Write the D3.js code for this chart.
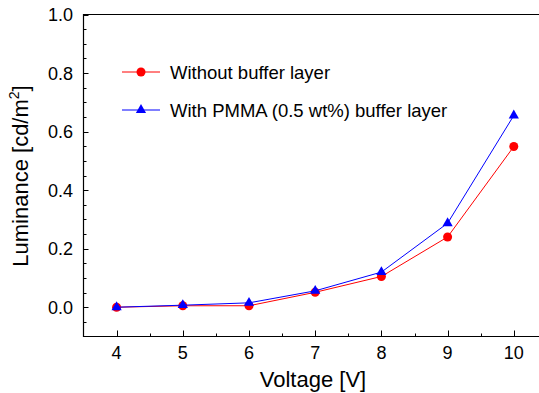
<!DOCTYPE html>
<html>
<head>
<meta charset="utf-8">
<script src="https://cdn.jsdelivr.net/npm/d3@7"></script>
<style>
  body { margin: 0; background: #fff; }
  text { font-family: "Liberation Sans", Arial, sans-serif; fill: #000; }
</style>
</head>
<body>
<div id="plot_area"></div>
<script>
// data
var voltage = [4, 5, 6, 7, 8, 9, 10];
var noBuffer = [0.0, 0.005, 0.005, 0.051, 0.105, 0.24, 0.549];
var withPmma = [0.0, 0.007, 0.015, 0.056, 0.12, 0.287, 0.655];
var seriesNames = ["Without buffer layer", "With PMMA (0.5 wt%) buffer layer"];
var yTicks = [0.0, 0.2, 0.4, 0.6, 0.8, 1.0];
var xTicks = [4, 5, 6, 7, 8, 9, 10];

var width = 539, height = 393;
var margin = {top: 14.5, left: 83.5, bottom: 56.5};

var svg = d3.select("#plot_area").append("svg")
  .attr("width", width)
  .attr("height", height);

var x = d3.scaleLinear().domain([3.5, 10.5]).range([margin.left, margin.left + 7 * 66.2]);
var y = d3.scaleLinear().domain([-0.1, 1.0]).range([height - margin.bottom, margin.top]);

// frame: left, bottom and top lines
svg.append("path")
  .attr("d", "M" + x.range()[1] + "," + y(1.0) + "H" + x(3.5) + "V" + y(-0.1) + "H" + x.range()[1])
  .attr("fill", "none")
  .attr("stroke", "#000")
  .attr("stroke-width", 1.2);

// y ticks (inside)
var yMinor = d3.range(-0.05, 1.0, 0.05).filter(function(v) { return Math.abs(Math.round(v * 5) - v * 5) > 1e-6; });
svg.selectAll(".ymin").data(yMinor).enter().append("line")
  .attr("x1", x(3.5)).attr("x2", x(3.5) + 3)
  .attr("y1", function(d) { return Math.round(y(d)) + 0.5; })
  .attr("y2", function(d) { return Math.round(y(d)) + 0.5; })
  .attr("stroke", "#000");
svg.selectAll(".ymaj").data(yTicks).enter().append("line")
  .attr("x1", x(3.5)).attr("x2", x(3.5) + 5)
  .attr("y1", function(d) { return Math.round(y(d)) + 0.5; })
  .attr("y2", function(d) { return Math.round(y(d)) + 0.5; })
  .attr("stroke", "#000");
svg.selectAll(".ylab").data(yTicks).enter().append("text")
  .attr("x", 73)
  .attr("y", function(d) { return y(d) + 6.5; })
  .attr("text-anchor", "end")
  .style("font-size", "18px")
  .text(function(d) { return d3.format(".1f")(d); });

// x ticks (inside)
var xMinor = [4.5, 5.5, 6.5, 7.5, 8.5, 9.5];
svg.selectAll(".xmin").data(xMinor).enter().append("line")
  .attr("x1", function(d) { return Math.round(x(d)) + 0.5; })
  .attr("x2", function(d) { return Math.round(x(d)) + 0.5; })
  .attr("y1", y(-0.1)).attr("y2", y(-0.1) - 3)
  .attr("stroke", "#000");
svg.selectAll(".xmaj").data(xTicks).enter().append("line")
  .attr("x1", function(d) { return Math.round(x(d)) + 0.5; })
  .attr("x2", function(d) { return Math.round(x(d)) + 0.5; })
  .attr("y1", y(-0.1)).attr("y2", y(-0.1) - 6)
  .attr("stroke", "#000");
svg.selectAll(".xlab").data(xTicks).enter().append("text")
  .attr("x", function(d) { return x(d); })
  .attr("y", 359)
  .attr("text-anchor", "middle")
  .style("font-size", "18px")
  .text(function(d) { return d; });

// axis titles
svg.append("text")
  .attr("x", 313).attr("y", 387)
  .attr("text-anchor", "middle")
  .style("font-size", "22px")
  .text("Voltage [V]");

var yt = svg.append("text")
  .attr("transform", "translate(28,176) rotate(-90)")
  .attr("text-anchor", "middle")
  .style("font-size", "22px");
yt.append("tspan").text("Luminance [cd/m");
yt.append("tspan").attr("dy", -9).style("font-size", "14px").text("2");
yt.append("tspan").attr("dy", 9).text("]");

// series
var line = d3.line()
  .x(function(d, i) { return x(voltage[i]); })
  .y(function(d) { return y(d); });

var tri = d3.symbol().type(d3.symbolTriangle).size(45);

function drawRed(g) {
  g.append("path").datum(noBuffer)
    .attr("d", line).attr("fill", "none").attr("stroke", "#ff0000").attr("stroke-width", 1);
  g.selectAll(".red").data(noBuffer).enter().append("circle")
    .attr("cx", function(d, i) { return x(voltage[i]); })
    .attr("cy", function(d) { return y(d); })
    .attr("r", 4.5)
    .attr("fill", "#ff0000");
}
function drawBlue(g) {
  g.append("path").datum(withPmma)
    .attr("d", line).attr("fill", "none").attr("stroke", "#0000ff").attr("stroke-width", 1);
  g.selectAll(".blue").data(withPmma).enter().append("path")
    .attr("d", tri)
    .attr("transform", function(d, i) { return "translate(" + x(voltage[i]) + "," + y(d) + ")"; })
    .attr("fill", "#0000ff");
}
drawRed(svg.append("g"));
drawBlue(svg.append("g"));

// legend
var legend = svg.append("g");
var legY = [72, 110];
var legCol = ["#ff0000", "#0000ff"];
seriesNames.forEach(function(name, i) {
  legend.append("line")
    .attr("x1", 122).attr("x2", 160)
    .attr("y1", legY[i]).attr("y2", legY[i])
    .attr("stroke", legCol[i]);
  if (i === 0) {
    legend.append("circle").attr("cx", 141).attr("cy", legY[i]).attr("r", 4.5).attr("fill", legCol[i]);
  } else {
    legend.append("path").attr("d", tri).attr("transform", "translate(141," + legY[i] + ")").attr("fill", legCol[i]);
  }
  legend.append("text")
    .attr("x", 170).attr("y", legY[i] + 6.5)
    .style("font-size", "18.5px")
    .text(name);
});
</script>
</body>
</html>
